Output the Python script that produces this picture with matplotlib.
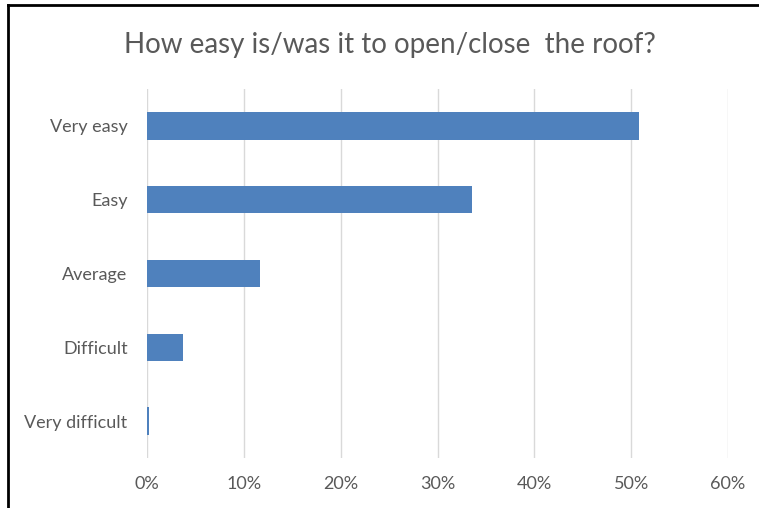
import matplotlib.pyplot as plt
from matplotlib.lines import Line2D
from matplotlib.ticker import FuncFormatter

categories = ["Very easy", "Easy", "Average", "Difficult", "Very difficult"]
shares = [50.8, 33.6, 11.7, 3.7, 0.25]
x_ticks = [0, 10, 20, 30, 40, 50, 60]

TEXT = "#595959"
BAR = "#4F81BD"
GRID = "#D9D9D9"

plt.rcParams["font.family"] = ["Lato", "DejaVu Sans"]

fig = plt.figure(figsize=(7.59, 5.08), dpi=100)
ax = fig.add_axes([147 / 759, 1 - 458 / 508, 581 / 759, 369 / 508])

ypos = list(range(len(categories)))
ax.barh(ypos, shares, height=0.37, color=BAR, zorder=3)
ax.set_ylim(len(categories) - 0.5, -0.5)
ax.set_yticks(ypos)
ax.set_yticklabels(categories)

ax.set_xlim(0, 60)
ax.set_xticks(x_ticks)
ax.xaxis.set_major_formatter(FuncFormatter(lambda v, _: f"{v:.0f}%"))
ax.grid(axis="x", color=GRID, linewidth=1, zorder=0)

for s in ax.spines.values():
    s.set_visible(False)
ax.tick_params(length=0, labelsize=13, labelcolor=TEXT)
ax.tick_params(axis="x", pad=13)
ax.tick_params(axis="y", pad=14)

fig.text(390 / 759, 1 - 45 / 508, "How easy is/was it to open/close  the roof?",
         ha="center", va="center", fontsize=20, color=TEXT)

# black frame on the left and top edges
fig.add_artist(Line2D([8 / 759, 8 / 759], [0, 1 - 5 / 508], color="black",
                      linewidth=2, transform=fig.transFigure))
fig.add_artist(Line2D([8 / 759, 1], [1 - 5 / 508, 1 - 5 / 508], color="black",
                      linewidth=2, transform=fig.transFigure))

fig.savefig("out.png", dpi=100)
